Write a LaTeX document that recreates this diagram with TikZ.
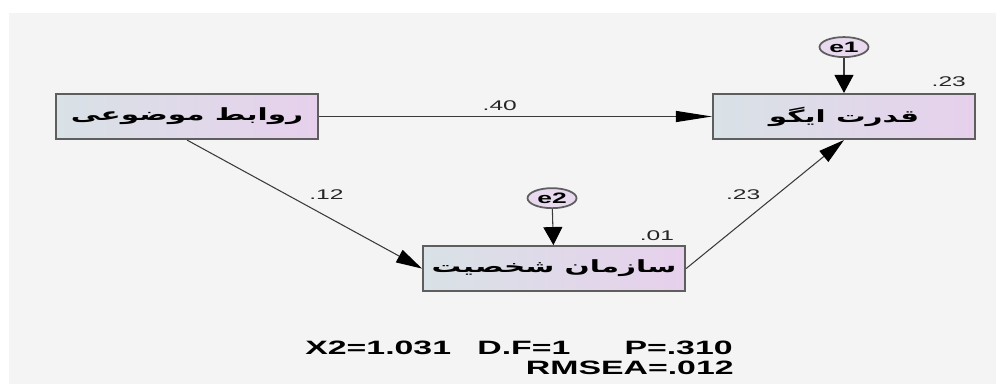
\documentclass[tikz,border=0pt]{standalone}
\usepackage{fontspec}
\setmainfont{Liberation Sans}
\newfontfamily\arabicfont[Script=Arabic]{DejaVu Sans}
\TeXXeTstate=1
\usetikzlibrary{arrows.meta, shapes.geometric, positioning, calc}

\definecolor{bgGray}{HTML}{F4F4F4}
\definecolor{boxLeft}{HTML}{D9E2E6}
\definecolor{boxRight}{HTML}{E7D0EC}
\definecolor{errFill}{HTML}{E8D9EE}
\definecolor{rim}{HTML}{5E5E5E}
\definecolor{wire}{HTML}{3A3A3A}

\newcommand{\wide}[1]{\scalebox{1.75}[1]{#1}}
\newcommand{\fa}[1]{\wide{\arabicfont\bfseries\beginR #1\endR}}

\tikzset{
  var/.style={draw=rim, line width=1.2pt, left color=boxLeft, right color=boxRight,
    minimum width=5.24cm, minimum height=0.9cm, inner sep=0pt, font=\fontsize{9.6}{11}\selectfont},
  err/.style={draw=rim, line width=1pt, fill=errFill, ellipse, minimum width=0.98cm,
    minimum height=0.4cm, inner sep=0pt, font=\bfseries\fontsize{8.6}{9}\selectfont},
  lbl/.style={font=\fontsize{8}{9}\selectfont, inner sep=1pt, text=black!85},
  stat/.style={font=\bfseries\fontsize{11}{13}\selectfont, inner sep=0pt},
  wire/.style={draw=wire, line width=0.6pt},
  tipH/.style={-{Triangle[length=0.72cm, width=0.22cm, color=black]}},
  tipV/.style={-{Triangle[length=0.36cm, width=0.38cm, color=black]}},
  tipD/.style={-{Triangle[length=0.52cm, width=0.28cm, color=black]}}
}

\begin{document}
\begin{tikzpicture}[x=0.02cm, y=-0.02cm]
        \useasboundingbox (0,0) rectangle (996,385);
        \fill [bgGray] (9,13) rectangle (996,384);

        \node [var] (ObjRel) at (187,116.5) { \fa{روابط موضوعی} };
        \node [var, right=7.86cm of ObjRel] (EgoStr) { \fa{قدرت ایگو} };
        \node [var, below right=2.1cm and 2.06cm of ObjRel] (PersOrg) { \fa{سازمان شخصیت} };
        \node [err, above=0.7cm of EgoStr] (e1) { \wide{e1} };
        \node [err, above=0.72cm of PersOrg, xshift=-0.04cm] (e2) { \wide{e2} };

        \node [lbl, anchor=base east] (r2Ego) at ([xshift=-0.16cm, yshift=0.12cm]EgoStr.north east) { \wide{.23} };
        \node [lbl, anchor=base east] (r2Pers) at ([xshift=-0.2cm, yshift=0.1cm]PersOrg.north east) { \wide{.01} };

        \draw [wire, tipH] (ObjRel) -- (EgoStr) node [lbl, pos=0.46, above=2pt] (w40) { \wide{.40} };
        \draw [wire, tipD] (ObjRel.south) -- (PersOrg.west) node [lbl, pos=0.5, above right=2pt] (w12) { \wide{.12} };
        \draw [wire, tipD] (PersOrg.east) -- (EgoStr.south) node [lbl, pos=0.5, above left=2pt] (w23) { \wide{.23} };
        \draw [wire, tipV] (e1) -- (EgoStr);
        \draw [wire, tipV] (e2) -- (PersOrg);

        % fit indices
        \node [stat, anchor=base west] (chi) at (305,354) { \wide{X2=1.031} };
        \node [stat, anchor=base west] (df) at (477,354) { \wide{D.F=1} };
        \node [stat, anchor=base east] (pval) at (733,354) { \wide{P=.310} };
        \node [stat, anchor=base east] (rmsea) at (734,374) { \wide{RMSEA=.012} };
\end{tikzpicture}
\end{document}
